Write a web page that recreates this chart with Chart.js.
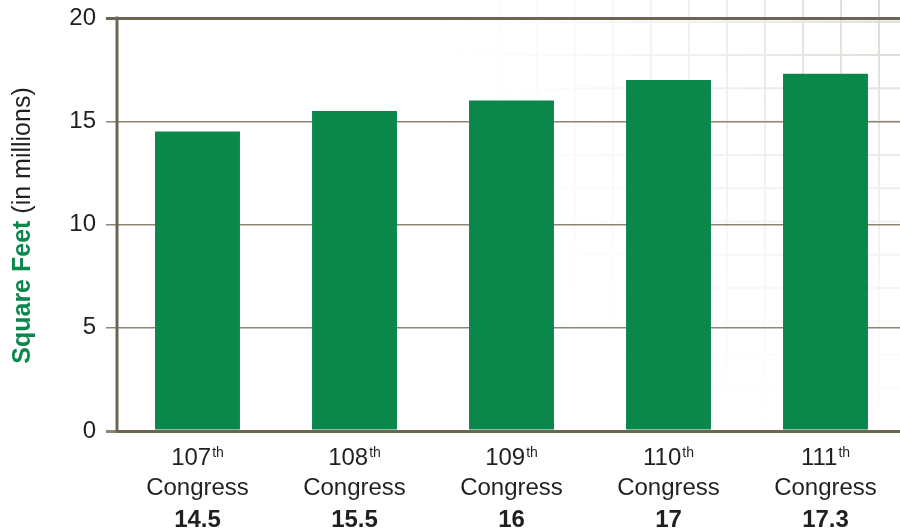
<!DOCTYPE html>
<html>
<head>
<meta charset="utf-8">
<script src="https://cdn.jsdelivr.net/npm/chart.js@4/dist/chart.umd.min.js"></script>
<style>
  html, body { margin: 0; padding: 0; background: #ffffff; overflow: hidden; }
  #wrap { width: 900px; height: 529px; position: relative; overflow: hidden; }
</style>
</head>
<body>
<div id="wrap"><canvas id="chart" width="904" height="529"></canvas></div>
<script>
// Office space per Congress, in millions of square feet
const congressNumbers = ['107', '108', '109', '110', '111'];
const ordinalSuffixes = ['th', 'th', 'th', 'th', 'th'];
const categoryLabels = congressNumbers.map((n, i) => n + ordinalSuffixes[i] + ' Congress');
const squareFeet = [14.5, 15.5, 16, 17, 17.3];
const yTickValues = [0, 5, 10, 15, 20];

const FONT = '"Liberation Sans", Arial, Helvetica, sans-serif';
const TEXT = '#231f20';
const GREEN = '#0a884c';
const AXIS = '#6e6454';
const GRID = '#8d8474';

// Faint sheet-of-paper grid fading out from the upper right corner
const paperGrid = {
  id: 'paperGrid',
  beforeDraw(chart) {
    const { ctx } = chart;
    const width = 900, height = chart.height;
    const off = document.createElement('canvas');
    off.width = width; off.height = height;
    const o = off.getContext('2d');
    o.strokeStyle = 'rgba(205,200,192,1)';
    o.lineWidth = 2;
    for (let x = width - 21; x > 380; x -= 38) {
      o.beginPath(); o.moveTo(x, 0); o.lineTo(x, height); o.stroke();
    }
    for (let y = 55 - 33.3 * 2; y < height; y += 33.3) {
      o.beginPath(); o.moveTo(0, y); o.lineTo(width, y); o.stroke();
    }
    o.globalCompositeOperation = 'destination-in';
    const g = o.createRadialGradient(width, 0, 0, width, 0, 470);
    g.addColorStop(0, 'rgba(0,0,0,0.7)');
    g.addColorStop(0.4, 'rgba(0,0,0,0.3)');
    g.addColorStop(0.75, 'rgba(0,0,0,0.08)');
    g.addColorStop(1, 'rgba(0,0,0,0)');
    o.fillStyle = g;
    o.fillRect(0, 0, width, height);
    ctx.save();
    ctx.fillStyle = '#ffffff';
    ctx.fillRect(0, 0, chart.width, height);
    ctx.drawImage(off, 0, 0);
    ctx.restore();
  }
};

// Vertical axis rule, sitting just left of the plotting area
const axisRule = {
  id: 'axisRule',
  afterDatasetsDraw(chart) {
    const { ctx, chartArea } = chart;
    const x = chartArea.left - 2;
    ctx.save();
    ctx.strokeStyle = AXIS;
    ctx.lineWidth = 3;
    ctx.beginPath();
    ctx.moveTo(x, chartArea.top - 1.5);
    ctx.lineTo(x, chartArea.bottom + 1.5);
    ctx.stroke();
    ctx.restore();
  }
};

// Category labels with superscript ordinals and the value line in bold
const categoryText = {
  id: 'categoryText',
  afterDraw(chart) {
    const { ctx } = chart;
    const xs = chart.scales.x;
    ctx.save();
    ctx.fillStyle = TEXT;
    ctx.textBaseline = 'alphabetic';
    congressNumbers.forEach((num, i) => {
      const cx = xs.getPixelForValue(i);
      ctx.font = '24px ' + FONT;
      const wNum = ctx.measureText(num).width;
      ctx.font = '14px ' + FONT;
      const wSup = ctx.measureText(ordinalSuffixes[i]).width + 1;
      let x0 = cx - (wNum + wSup) / 2;
      ctx.textAlign = 'left';
      ctx.font = '24px ' + FONT;
      ctx.fillText(num, x0, 465);
      ctx.font = '14px ' + FONT;
      ctx.fillText(ordinalSuffixes[i], x0 + wNum + 1, 457);
      ctx.textAlign = 'center';
      ctx.font = '24px ' + FONT;
      ctx.fillText('Congress', cx, 495);
      ctx.font = 'bold 24px ' + FONT;
      ctx.fillText(String(squareFeet[i]), cx, 527);
    });
    ctx.restore();
  }
};

// Vertical axis title with a bold green lead-in
const axisTitle = {
  id: 'axisTitle',
  afterDraw(chart) {
    const { ctx, chartArea } = chart;
    const boldPart = 'Square Feet';
    const plainPart = ' (in millions)';
    ctx.save();
    ctx.translate(30, (chartArea.top + chartArea.bottom) / 2 + 1);
    ctx.rotate(-Math.PI / 2);
    ctx.textBaseline = 'alphabetic';
    ctx.textAlign = 'left';
    ctx.font = 'bold 25px ' + FONT;
    const w1 = ctx.measureText(boldPart).width;
    ctx.font = '25px ' + FONT;
    const w2 = ctx.measureText(plainPart).width;
    const start = -(w1 + w2) / 2;
    ctx.font = 'bold 25px ' + FONT;
    ctx.fillStyle = GREEN;
    ctx.fillText(boldPart, start, 0);
    ctx.font = '25px ' + FONT;
    ctx.fillStyle = TEXT;
    ctx.fillText(plainPart, start + w1, 0);
    ctx.restore();
  }
};

new Chart(document.getElementById('chart'), {
  type: 'bar',
  data: {
    labels: categoryLabels,
    datasets: [{
      data: squareFeet,
      backgroundColor: GREEN,
      borderWidth: 0,
      categoryPercentage: 1,
      barPercentage: 0.541
    }]
  },
  plugins: [paperGrid, axisRule, categoryText, axisTitle],
  options: {
    responsive: false,
    devicePixelRatio: 1,
    animation: false,
    layout: { padding: { top: 18, right: 0, bottom: 0, left: 0 } },
    plugins: { legend: { display: false }, tooltip: { enabled: false } },
    scales: {
      x: {
        grid: { display: false },
        border: { display: true, color: AXIS, width: 3 },
        ticks: { display: false },
        afterFit(scale) { scale.height = 98; scale.paddingLeft = 0; scale.paddingRight = 0; }
      },
      y: {
        min: 0,
        max: 20,
        afterBuildTicks(scale) { scale.ticks = yTickValues.map(v => ({ value: v })); },
        ticks: {
          color: TEXT,
          font: { family: FONT, size: 24 },
          padding: 10
        },
        grid: {
          color: ctx => (ctx.tick && ctx.tick.value === 20) ? AXIS : GRID,
          lineWidth: ctx => (ctx.tick && (ctx.tick.value === 20 || ctx.tick.value === 0)) ? 3 : 1.5,
          tickLength: 13,
          drawTicks: true
        },
        border: { display: false },
        afterFit(scale) { scale.width = 119; scale.paddingTop = 0; scale.paddingBottom = 0; }
      }
    }
  }
});
</script>
</body>
</html>
